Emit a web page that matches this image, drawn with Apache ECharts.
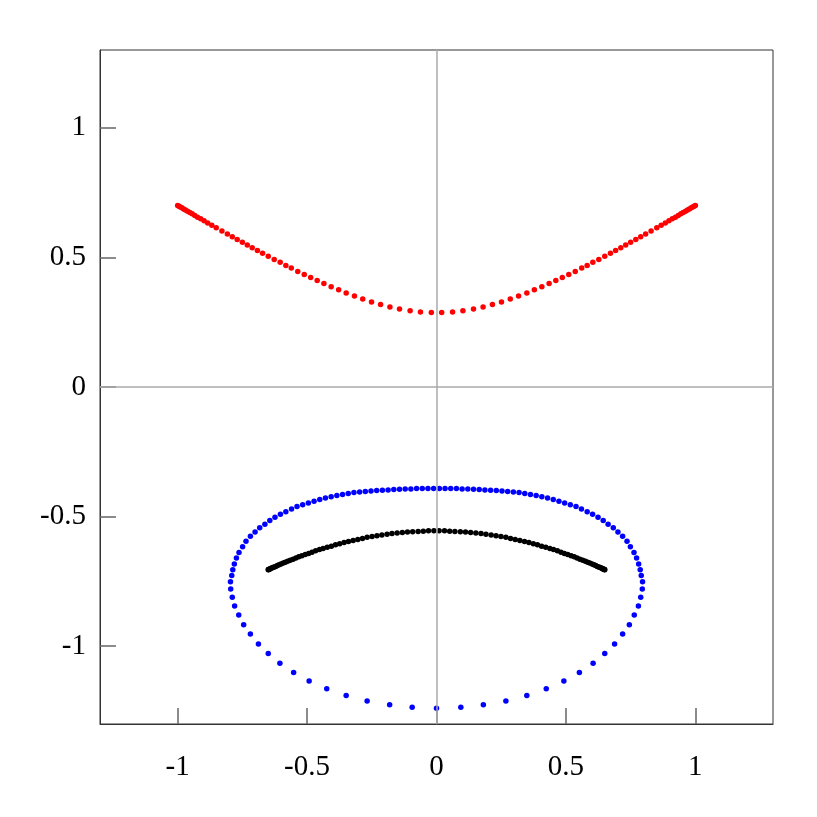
<!DOCTYPE html>
<html>
<head>
<meta charset="utf-8">
<script src="https://cdn.jsdelivr.net/npm/echarts@6/dist/echarts.min.js"></script>
<style>
  html, body { margin: 0; padding: 0; background: #fff; }
  #main { width: 817px; height: 817px; }
</style>
</head>
<body>
<div id="main"></div>
<script>
// tick positions on both axes
const tickValues = [-1, -0.5, 0, 0.5, 1]

// red curve (upper)
const redPoints = [
  [-1.000, 0.700], [-0.995, 0.697], [-0.990, 0.694], [-0.984, 0.691], [-0.977, 0.687], [-0.970, 0.683],
  [-0.962, 0.678], [-0.953, 0.673], [-0.944, 0.668], [-0.934, 0.662], [-0.923, 0.655], [-0.911, 0.649],
  [-0.898, 0.641], [-0.884, 0.633], [-0.868, 0.624], [-0.851, 0.614], [-0.829, 0.602], [-0.808, 0.590],
  [-0.789, 0.580], [-0.770, 0.569], [-0.750, 0.558], [-0.731, 0.548], [-0.712, 0.537], [-0.692, 0.527],
  [-0.672, 0.516], [-0.650, 0.504], [-0.627, 0.492], [-0.604, 0.481], [-0.582, 0.469], [-0.561, 0.459],
  [-0.536, 0.446], [-0.511, 0.434], [-0.486, 0.422], [-0.461, 0.411], [-0.435, 0.399], [-0.407, 0.387],
  [-0.378, 0.375], [-0.349, 0.363], [-0.317, 0.351], [-0.285, 0.339], [-0.251, 0.328], [-0.216, 0.318],
  [-0.180, 0.309], [-0.143, 0.301], [-0.102, 0.294], [-0.062, 0.289], [-0.020, 0.287],
  [0.020, 0.287], [0.062, 0.289], [0.102, 0.294], [0.143, 0.301], [0.180, 0.309], [0.216, 0.318],
  [0.251, 0.328], [0.285, 0.339], [0.317, 0.351], [0.349, 0.363], [0.378, 0.375], [0.407, 0.387],
  [0.435, 0.399], [0.461, 0.411], [0.486, 0.422], [0.511, 0.434], [0.536, 0.446], [0.561, 0.459],
  [0.582, 0.469], [0.604, 0.481], [0.627, 0.492], [0.650, 0.504], [0.672, 0.516], [0.692, 0.527],
  [0.712, 0.537], [0.731, 0.548], [0.750, 0.558], [0.770, 0.569], [0.789, 0.580], [0.808, 0.590],
  [0.829, 0.602], [0.851, 0.614], [0.868, 0.624], [0.884, 0.633], [0.898, 0.641], [0.911, 0.649],
  [0.923, 0.655], [0.934, 0.662], [0.944, 0.668], [0.953, 0.673], [0.962, 0.678], [0.970, 0.683],
  [0.977, 0.687], [0.984, 0.691], [0.990, 0.694], [0.995, 0.697], [1.000, 0.700]
]

// black arc (inside the loop)
const blackPoints = [
  [-0.650, -0.705], [-0.649, -0.704], [-0.648, -0.704], [-0.646, -0.703], [-0.644, -0.702], [-0.640, -0.700],
  [-0.637, -0.698], [-0.632, -0.696], [-0.627, -0.694], [-0.621, -0.692], [-0.615, -0.689], [-0.608, -0.686],
  [-0.601, -0.683], [-0.592, -0.679], [-0.584, -0.676], [-0.575, -0.672], [-0.565, -0.668], [-0.554, -0.664],
  [-0.543, -0.660], [-0.532, -0.655], [-0.520, -0.651], [-0.507, -0.646], [-0.494, -0.642], [-0.481, -0.637],
  [-0.467, -0.632], [-0.452, -0.627], [-0.438, -0.623], [-0.422, -0.618], [-0.406, -0.614], [-0.390, -0.609],
  [-0.374, -0.605], [-0.357, -0.600], [-0.340, -0.596], [-0.322, -0.592], [-0.304, -0.588], [-0.286, -0.584],
  [-0.268, -0.580], [-0.249, -0.577], [-0.230, -0.574], [-0.211, -0.571], [-0.191, -0.568], [-0.172, -0.565],
  [-0.152, -0.563], [-0.132, -0.561], [-0.112, -0.559], [-0.092, -0.558], [-0.071, -0.557], [-0.051, -0.556],
  [-0.031, -0.555], [-0.010, -0.555],
  [0.010, -0.555], [0.031, -0.555], [0.051, -0.556], [0.071, -0.557], [0.092, -0.558], [0.112, -0.559],
  [0.132, -0.561], [0.152, -0.563], [0.172, -0.565], [0.191, -0.568], [0.211, -0.571], [0.230, -0.574],
  [0.249, -0.577], [0.268, -0.580], [0.286, -0.584], [0.304, -0.588], [0.322, -0.592], [0.340, -0.596],
  [0.357, -0.600], [0.374, -0.605], [0.390, -0.609], [0.406, -0.614], [0.422, -0.618], [0.438, -0.623],
  [0.452, -0.627], [0.467, -0.632], [0.481, -0.637], [0.494, -0.642], [0.507, -0.646], [0.520, -0.651],
  [0.532, -0.655], [0.543, -0.660], [0.554, -0.664], [0.565, -0.668], [0.575, -0.672], [0.584, -0.676],
  [0.592, -0.679], [0.601, -0.683], [0.608, -0.686], [0.615, -0.689], [0.621, -0.692], [0.627, -0.694],
  [0.632, -0.696], [0.637, -0.698], [0.640, -0.700], [0.644, -0.702], [0.646, -0.703], [0.648, -0.704],
  [0.649, -0.704], [0.650, -0.705]
]

// blue closed loop
const bluePoints = [
  [-0.011, -0.392], [-0.033, -0.392], [-0.055, -0.392], [-0.077, -0.392], [-0.099, -0.393], [-0.121, -0.393],
  [-0.143, -0.394], [-0.165, -0.395], [-0.187, -0.397], [-0.209, -0.398], [-0.231, -0.399], [-0.253, -0.401],
  [-0.275, -0.403], [-0.297, -0.405], [-0.319, -0.407], [-0.341, -0.411], [-0.363, -0.415], [-0.385, -0.419],
  [-0.407, -0.423], [-0.429, -0.428], [-0.451, -0.434], [-0.473, -0.441], [-0.495, -0.447], [-0.517, -0.454],
  [-0.539, -0.461], [-0.560, -0.471], [-0.582, -0.481], [-0.603, -0.491], [-0.624, -0.502], [-0.644, -0.515],
  [-0.663, -0.529], [-0.683, -0.543], [-0.701, -0.559], [-0.719, -0.576], [-0.736, -0.595], [-0.749, -0.616],
  [-0.763, -0.638], [-0.773, -0.660], [-0.781, -0.683], [-0.787, -0.705], [-0.791, -0.727],
  [-0.796, -0.751], [-0.795, -0.779], [-0.789, -0.811], [-0.780, -0.845], [-0.764, -0.880], [-0.745, -0.917],
  [-0.719, -0.953], [-0.688, -0.991], [-0.650, -1.028], [-0.605, -1.066], [-0.552, -1.101], [-0.492, -1.134],
  [-0.424, -1.164], [-0.349, -1.190], [-0.268, -1.211], [-0.181, -1.226], [-0.094, -1.235],
  [0.000, -1.239],
  [0.094, -1.235], [0.181, -1.226], [0.268, -1.211], [0.349, -1.190], [0.424, -1.164], [0.492, -1.134],
  [0.552, -1.101], [0.605, -1.066], [0.650, -1.028], [0.688, -0.991], [0.719, -0.953], [0.745, -0.917],
  [0.764, -0.880], [0.780, -0.845], [0.789, -0.811], [0.795, -0.779], [0.796, -0.751],
  [0.791, -0.727], [0.787, -0.705], [0.781, -0.683], [0.773, -0.660], [0.763, -0.638], [0.749, -0.616],
  [0.736, -0.595], [0.719, -0.576], [0.701, -0.559], [0.683, -0.543], [0.663, -0.529], [0.644, -0.515],
  [0.624, -0.502], [0.603, -0.491], [0.582, -0.481], [0.560, -0.471], [0.539, -0.461], [0.517, -0.454],
  [0.495, -0.447], [0.473, -0.441], [0.451, -0.434], [0.429, -0.428], [0.407, -0.423], [0.385, -0.419],
  [0.363, -0.415], [0.341, -0.411], [0.319, -0.407], [0.297, -0.405], [0.275, -0.403], [0.253, -0.401],
  [0.231, -0.399], [0.209, -0.398], [0.187, -0.397], [0.165, -0.395], [0.143, -0.394], [0.121, -0.393],
  [0.099, -0.393], [0.077, -0.392], [0.055, -0.392], [0.033, -0.392], [0.011, -0.392]
]

const chart = echarts.init(document.getElementById('main'), null, { renderer: 'canvas' })

const axisCommon = {
  type: 'value',
  min: -1.3,
  max: 1.3,
  axisLine: { show: true, onZero: false, lineStyle: { color: '#333', width: 1 } },
  axisTick: {
    show: true,
    inside: true,
    length: 16,
    customValues: tickValues,
    lineStyle: { color: '#666', width: 1.5 },
  },
  axisLabel: {
    customValues: tickValues,
    color: '#000',
    fontFamily: 'Liberation Serif',
    fontSize: 29,
  },
  splitLine: { show: false },
}

const scatter = (data, color) => ({
  type: 'scatter',
  data: data,
  symbol: 'circle',
  symbolSize: 5.5,
  z: 3,
  silent: true,
  itemStyle: { color: color, opacity: 1 },
})

chart.setOption({
  animation: false,
  backgroundColor: '#fff',
  grid: {
    left: 100,
    right: 44,
    top: 50,
    bottom: 93,
    show: true,
    borderColor: '#333',
    borderWidth: 1,
  },
  xAxis: Object.assign({}, axisCommon, {
    axisLabel: Object.assign({}, axisCommon.axisLabel, { margin: 29 }),
  }),
  yAxis: Object.assign({}, axisCommon, {
    axisLabel: Object.assign({}, axisCommon.axisLabel, { margin: 14 }),
  }),
  series: [
    {
      // zero lines
      type: 'line',
      data: [],
      z: 1,
      silent: true,
      markLine: {
        silent: true,
        symbol: ['none', 'none'],
        label: { show: false },
        lineStyle: { color: '#aaa', width: 1.5, type: 'solid' },
        data: [{ xAxis: 0 }, { yAxis: 0 }],
      },
    },
    scatter(redPoints, '#ff0000'),
    scatter(bluePoints, '#0000ff'),
    scatter(blackPoints, '#000000'),
  ],
})
</script>
</body>
</html>
